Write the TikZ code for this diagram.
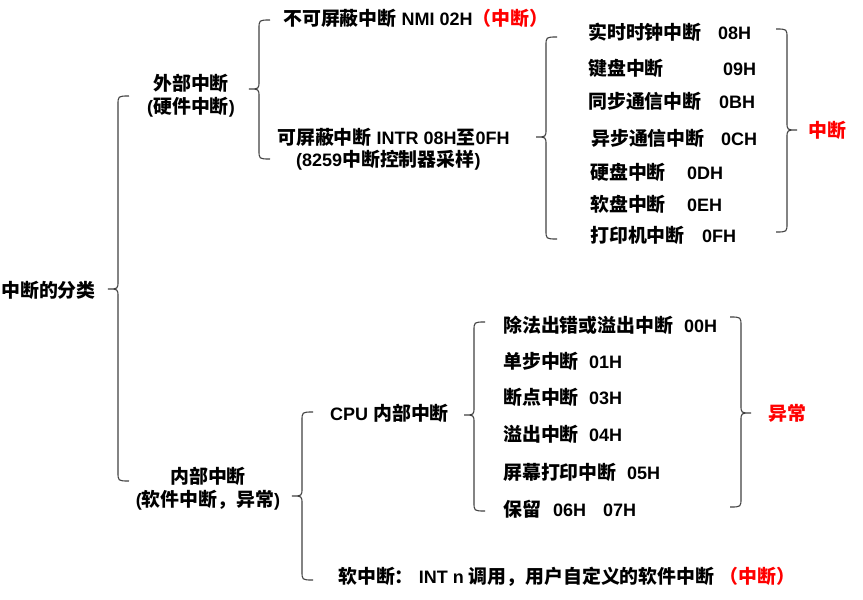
\documentclass[tikz,border=0pt]{standalone}
\usepackage{fontspec}
\setmainfont{Liberation Sans}
\newfontfamily\cjk{Noto Sans CJK SC}[Scale=1.05]
% curly brackets: x, top, middle, bottom
\newcommand{\braceL}[4]{%
  \draw[brk] ({#1+11},#2) .. controls (#1,#2) .. (#1,{#2+9}) -- (#1,{#3-8})
    .. controls (#1,#3) .. ({#1-10},#3) .. controls (#1,#3) .. (#1,{#3+8})
    -- (#1,{#4-9}) .. controls (#1,#4) .. ({#1+11},#4);}
\newcommand{\braceR}[4]{%
  \draw[brk] ({#1-11},#2) .. controls (#1,#2) .. (#1,{#2+9}) -- (#1,{#3-8})
    .. controls (#1,#3) .. ({#1+10},#3) .. controls (#1,#3) .. (#1,{#3+8})
    -- (#1,{#4-9}) .. controls (#1,#4) .. ({#1-11},#4);}
\begin{document}
\begin{tikzpicture}[x=1pt, y=-1pt, every node/.style={anchor=west, inner sep=0pt, font=\fontsize{18}{23}\selectfont\bfseries}, brk/.style={draw=black!75, line width=1.1pt}]
	\useasboundingbox (0,0) rectangle (863,600);
	\node (root) at (1,290) {\cjk 中断的分类};
	\node[anchor=center, align=center] (ext) at (191,96) {{\cjk 外部中断}\\({\cjk 硬件中断})};
	\node[anchor=center, align=center] (int) at (208,489) {{\cjk 内部中断}\\({\cjk 软件中断，异常})};
	\node (nmi) at (283,18) {{\cjk 不可屏蔽中断} NMI 02H\textcolor{red}{\cjk （中断）}};
	\node (intr) at (277,137) {{\cjk 可屏蔽中断} INTR 08H{\cjk 至}0FH};
	\node (pic) at (296,160) {(8259{\cjk 中断控制器采样})};
	\node (k1) at (588,32) {\makebox[130pt][l]{\cjk 实时时钟中断}08H};
	\node (k2) at (588,68) {\makebox[135pt][l]{\cjk 键盘中断}09H};
	\node (k3) at (588,101) {\makebox[131pt][l]{\cjk 同步通信中断}0BH};
	\node (k4) at (591,138) {\makebox[130pt][l]{\cjk 异步通信中断}0CH};
	\node (k5) at (590,172) {\makebox[97pt][l]{\cjk 硬盘中断}0DH};
	\node (k6) at (590,204) {\makebox[97pt][l]{\cjk 软盘中断}0EH};
	\node (k7) at (590,235) {\makebox[112pt][l]{\cjk 打印机中断}0FH};
	\node[text=red] (hw) at (808,130) {\cjk 中断};
	\node (cpu) at (330,413) {CPU {\cjk 内部中断}};
	\node (e1) at (503,325) {\makebox[181pt][l]{\cjk 除法出错或溢出中断}00H};
	\node (e2) at (503,361) {\makebox[86pt][l]{\cjk 单步中断}01H};
	\node (e3) at (503,397) {\makebox[86pt][l]{\cjk 断点中断}03H};
	\node (e4) at (503,434) {\makebox[86pt][l]{\cjk 溢出中断}04H};
	\node (e5) at (503,472) {\makebox[124pt][l]{\cjk 屏幕打印中断}05H};
	\node (e6) at (503,509) {\makebox[50pt][l]{\cjk 保留}06H\hspace{17pt}07H};
	\node[text=red] (exc) at (768,413) {\cjk 异常};
	\node (soft) at (338,577) {{\cjk 软中断：} INT n {\cjk 调用，用户自定义的软件中断} \textcolor{red}{\cjk （中断）}};
	\braceL{118}{96}{289}{481}
	\braceL{259}{20}{89}{159}
	\braceL{546}{37}{137}{239}
	\braceR{787}{29}{130}{232}
	\braceL{302}{412}{496}{580}
	\braceL{474}{322}{415}{511}
	\braceR{741}{317}{413}{507}
\end{tikzpicture}
\end{document}
